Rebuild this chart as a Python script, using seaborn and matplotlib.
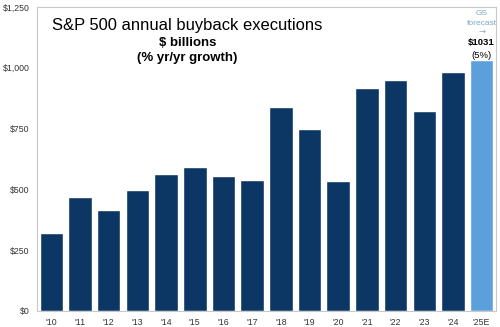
import matplotlib
matplotlib.use("Agg")
import matplotlib.pyplot as plt
import seaborn as sns
import pandas as pd

years = ["'10", "'11", "'12", "'13", "'14", "'15", "'16", "'17", "'18", "'19",
         "'20", "'21", "'22", "'23", "'24", "'25E"]
values = [321, 469, 415, 497, 565, 591, 554, 540, 838, 748, 536, 918, 950, 822, 981, 1031]
kinds = ["Actual"] * 15 + ["Forecast"]
yticks = [0, 250, 500, 750, 1000, 1250]
ytick_labels = ["$0", "$250", "$500", "$750", "$1,000", "$1,250"]

sns.set_style("white")
plt.rcParams['font.family'] = ['Liberation Sans', 'DejaVu Sans']

df = pd.DataFrame({"year": years, "value": values, "kind": kinds})

fig = plt.figure(figsize=(5.0, 3.27), dpi=100)
ax = fig.add_axes([0.074, 0.049, 0.918, 0.930])
sns.barplot(data=df, x="year", y="value", hue="kind", dodge=False, width=0.82,
            palette={"Actual": "#0c3764", "Forecast": "#5ba0da"}, legend=False,
            saturation=1, ax=ax)
ax.set_xlim(-0.5, 15.5)
ax.set_ylim(0, 1250)
ax.set_yticks(yticks)
ax.set_yticklabels(ytick_labels)
ax.set_xlabel("")
ax.set_ylabel("")
ax.tick_params(axis="both", length=0, labelsize=6.3, colors="#333333")
ax.tick_params(axis="y", pad=5.5)
ax.tick_params(axis="x", pad=5)
for s in ax.spines.values():
    s.set_color("#c8c8c8")
    s.set_linewidth(0.8)

ax.text(4.75, 1155, "S&P 500 annual buyback executions", ha="center", va="baseline",
        fontsize=11.9, color="black")
ax.text(4.75, 1091, "$ billions", ha="center", va="baseline", fontsize=9.5,
        fontweight="bold", color="black")
ax.text(4.75, 1028, "(% yr/yr growth)", ha="center", va="baseline", fontsize=9.5,
        fontweight="bold", color="black")

ax.text(15, 1222, "GS", ha="center", va="center", fontsize=6, color="#7aa8c8")
ax.text(15, 1182, "forecast", ha="center", va="center", fontsize=6, color="#7aa8c8")
ax.text(15, 1148, "→", ha="center", va="center", fontsize=6, color="#8aaac0",
        family="DejaVu Sans")
ax.text(15, 1104, "$1031", ha="center", va="center", fontsize=6.8, fontweight="bold", color="black")
ax.text(15, 1052, "(5%)", ha="center", va="center", fontsize=6.8, color="black")

fig.savefig("out.png", dpi=100)
